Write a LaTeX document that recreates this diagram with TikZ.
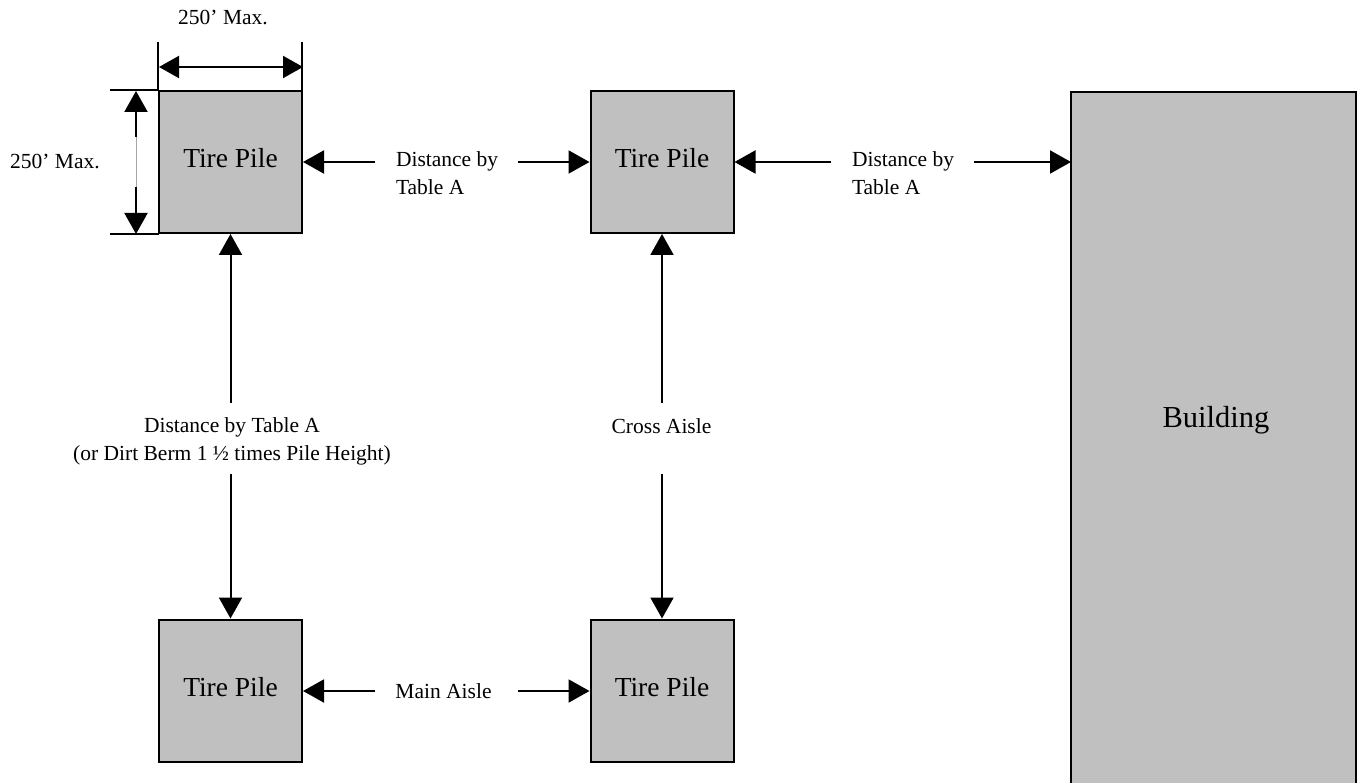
\documentclass[tikz,border=0pt]{standalone}
\usepackage{fontspec}
\setmainfont{Liberation Serif}
\usetikzlibrary{arrows.meta}
\definecolor{pilegray}{RGB}{192,192,192}
\begin{document}
\begin{tikzpicture}[x=1pt,y=-1pt,line width=2pt,
  pile/.style={draw, fill=pilegray, minimum width=143pt, minimum height=142pt, inner sep=0pt,
    font=\fontsize{27.5}{33}\selectfont, text depth=8pt},
  bldg/.style={draw, fill=pilegray, minimum width=285pt, minimum height=720pt, inner sep=0pt, outer sep=0pt, anchor=north west},
  lbl/.style={font=\fontsize{21.5}{28}\selectfont, inner sep=0pt},
  tip/.style={-{Triangle[length=21pt,width=23pt]}},
  dtip/.style={{Triangle[length=20pt,width=22pt]}-{Triangle[length=20pt,width=22pt]}},
  ext/.style={line width=2pt}]
\useasboundingbox (0,0) rectangle (1364,783);

% piles and building
\node[pile] (p1) at (230.5,162) {Tire Pile};
\node[pile] (p2) at (662,162) {Tire Pile};
\node[pile] (p3) at (230.5,690.5) {Tire Pile};
\node[pile] (p4) at (662,690.5) {Tire Pile};
\node[bldg] (bld) at (1071,92) {};
\node[font=\fontsize{30.5}{36}\selectfont, inner sep=0pt, anchor=base] (bldlbl) at (1216,427) {Building};

% dimension lines
\coordinate (x1) at (158,42);
\coordinate (x2) at (302,42);
\coordinate (y1) at (110,90);
\coordinate (y2) at (110,234);
\draw[ext] (x1) -- (158,91);
\draw[ext] (x2) -- (302,91);
\draw[ext] (y1) -- (159,90);
\draw[ext] (y2) -- (159,234);
\coordinate (h1) at (159,67);
\coordinate (h2) at (303,67);
\draw[dtip] (h1) -- (h2);
\coordinate (v1) at (136,91);
\coordinate (g1) at (136,137);
\coordinate (g2) at (136,187);
\coordinate (v2) at (136,234);
\draw[tip] (g1) -- (v1);
\draw[tip] (g2) -- (v2);
\draw[line width=0.6pt, black!35] (g1) -- (g2);
\node[lbl, anchor=base] (dimtop) at (223,25) {250’ Max.};
\node[lbl, anchor=base] (dimleft) at (55,169) {250’ Max.};

% top row
\coordinate (c1) at (375,162);
\coordinate (c2) at (518,162);
\coordinate (c3) at (831,162);
\coordinate (c4) at (974,162);
\draw[tip] (c1) -- (p1.east);
\draw[tip] (c2) -- (p2.west);
\draw[tip] (c3) -- (p2.east);
\draw[tip] (c4) -- (c4 -| bld.west);
\node[lbl, align=left, anchor=north west] (t1) at (395,150.5) {Distance by\\Table A};
\node[lbl, align=left, anchor=north west] (t2) at (851,150.5) {Distance by\\Table A};

% verticals
\coordinate (c5) at (230.5,403);
\coordinate (c6) at (230.5,474);
\coordinate (c7) at (662,403);
\coordinate (c8) at (662,474);
\draw[tip] (c5) -- (p1.south);
\draw[tip] (c6) -- (p3.north);
\draw[tip] (c7) -- (p2.south);
\draw[tip] (c8) -- (p4.north);
\node[lbl, align=center, anchor=north] (t3) at (232,416.5) {Distance by Table A\\(or Dirt Berm 1 ½ times Pile Height)};
\node[lbl, anchor=base] (t4) at (661.5,433) {Cross Aisle};

% bottom row
\coordinate (c9) at (375,691);
\coordinate (c10) at (518,691);
\draw[tip] (c9) -- (p3.east |- c9);
\draw[tip] (c10) -- (p4.west |- c10);
\node[lbl, anchor=base] (t5) at (443.5,698) {Main Aisle};
\end{tikzpicture}
\end{document}
